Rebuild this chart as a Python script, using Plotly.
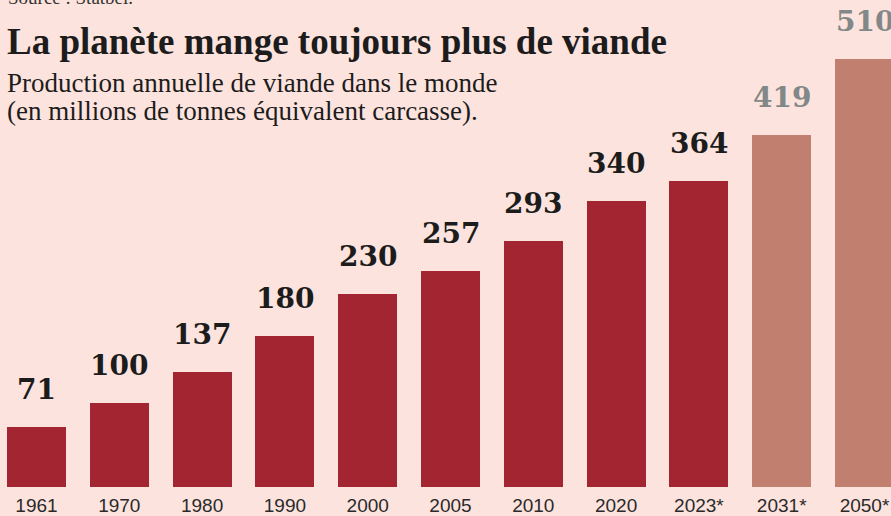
import plotly.graph_objects as go

years = ["1961", "1970", "1980", "1990", "2000", "2005", "2010", "2020", "2023*", "2031*", "2050*"]
values = [71, 100, 137, 180, 230, 257, 293, 340, 364, 419, 510]
projection = [False, False, False, False, False, False, False, False, False, True, True]

title = "La planète mange toujours plus de viande"
subtitle_lines = ["Production annuelle de viande dans le monde",
                  "(en millions de tonnes équivalent carcasse)."]
source = "Source : Statbel."

BG = "#fde3dd"
RED = "#a22531"
PINK = "#c07f6f"
DARK = "#1c1c1c"
GREY = "#828787"

W, H = 891, 516
plot_bottom = 487
px_per_unit = 0.84
x0_px = 36.5
step_px = 82.8

xs = list(range(len(years)))
colors = [PINK if p else RED for p in projection]

fig = go.Figure()
fig.add_trace(go.Bar(x=xs, y=values, marker=dict(color=colors, line=dict(width=0)),
                     width=59 / step_px, hoverinfo="skip"))

for i, (v, p) in enumerate(zip(values, projection)):
    fig.add_annotation(x=i, y=v, xref="x", yref="y", text=f"<b>{v}</b>", showarrow=False,
                       yanchor="bottom", yshift=19,
                       font=dict(family="DejaVu Serif", size=28, color=GREY if p else DARK))

def py(pix):
    return 1 - pix / plot_bottom

fig.add_annotation(x=6 / W, y=py(-15), xref="paper", yref="paper", xanchor="left", yanchor="top",
                   text=source, showarrow=False,
                   font=dict(family="Liberation Serif", size=19, color="#333333"))
fig.add_annotation(x=5 / W, y=py(19), xref="paper", yref="paper", xanchor="left", yanchor="top",
                   text=f"<b>{title}</b>", showarrow=False,
                   font=dict(family="Liberation Serif", size=37, color=DARK))
for k, line in enumerate(subtitle_lines):
    fig.add_annotation(x=5 / W, y=py(66 + 28 * k), xref="paper", yref="paper", xanchor="left", yanchor="top",
                       text=line, showarrow=False, align="left",
                       font=dict(family="Liberation Serif", size=27, color=DARK))

xmin = -x0_px / step_px
xmax = xmin + W / step_px
fig.update_layout(
    width=W, height=H, paper_bgcolor=BG, plot_bgcolor=BG,
    margin=dict(l=0, r=0, t=0, b=H - plot_bottom),
    showlegend=False, bargap=0,
    xaxis=dict(range=[xmin, xmax], tickvals=xs, ticktext=years, showgrid=False, zeroline=False,
               showline=False, ticks="", ticklabelstandoff=5,
               tickfont=dict(family="Liberation Sans", size=19, color="#2a2a2a"),
               fixedrange=True),
    yaxis=dict(range=[0, plot_bottom / px_per_unit], visible=False, fixedrange=True),
)
fig.write_html("out.html", config={"displayModeBar": False},
               post_script="document.body.style.margin='0';document.body.style.overflow='hidden';")
